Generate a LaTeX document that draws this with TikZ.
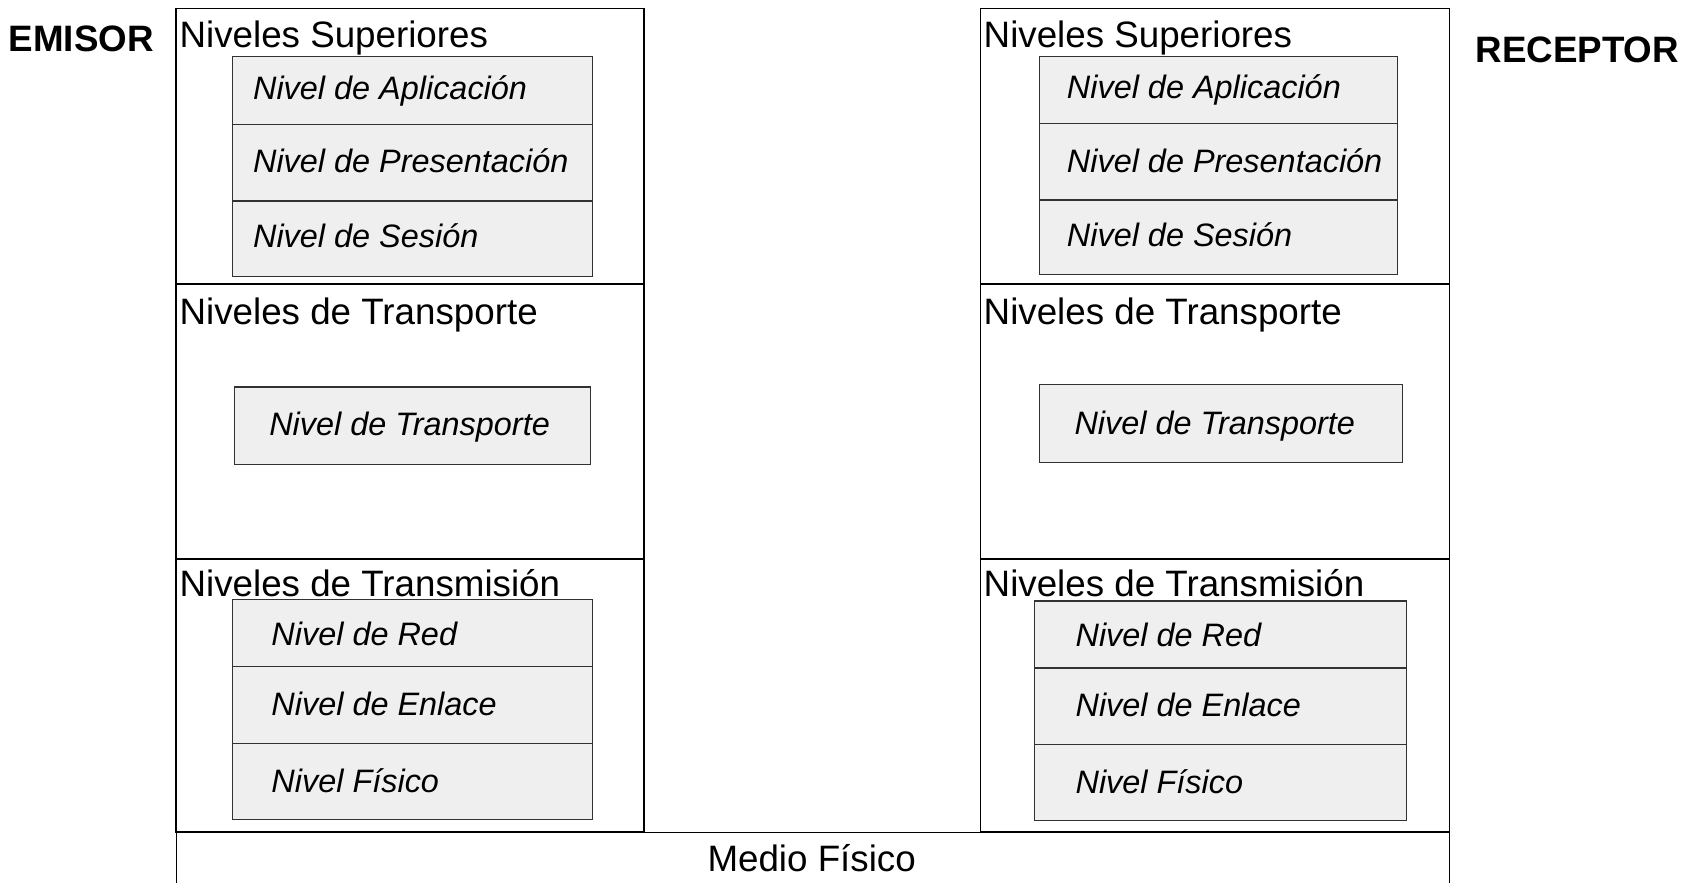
\documentclass[tikz,border=0pt]{standalone}
\usepackage{fontspec}
\setmainfont{Liberation Sans}
\definecolor{layergray}{RGB}{239,239,239}
\definecolor{layerline}{RGB}{50,50,50}
\begin{document}
\begin{tikzpicture}[x=1pt,y=-1pt,
  col/.style={draw=black,line width=1.4pt},
  layer/.style={draw=layerline,fill=layergray,line width=1.1pt},
  head/.style={anchor=base west,inner sep=0pt,font=\fontsize{34}{40}\selectfont},
  lab/.style={anchor=base west,inner sep=0pt,font=\fontsize{30}{36}\selectfont\itshape},
  side/.style={anchor=base west,inner sep=0pt,font=\fontsize{34}{40}\selectfont\bfseries}]
\useasboundingbox (0,0) rectangle (1560,817);
\clip (0,0) rectangle (1560,817);
\fill[white] (0,0) rectangle (1560,817);

% Medio fisico
\draw[col,line width=1pt] (163,770) rectangle (1341,860);
\node[anchor=base,inner sep=0pt,font=\fontsize{34}{40}\selectfont] (medio) at (751,806) {Medio Físico};

% Left column
\draw[col] (163,8) rectangle (596,263);
\draw[col] (163,263) rectangle (596,517);
\draw[col] (163,517) rectangle (596,770);
% Right column
\draw[col] (907,8) rectangle (1341,263);
\draw[col] (907,263) rectangle (1341,517);
\draw[col] (907,517) rectangle (1341,770);

% Side labels
\node[side] (emisor) at (8,48) {EMISOR};
\node[side] (receptor) at (1365,58) {RECEPTOR};

% Left headings
\node[head] (lsup) at (166,44) {Niveles Superiores};
\node[head] (ltra) at (166,300) {Niveles de Transporte};
\node[head] (ltrm) at (166,552) {Niveles de Transmisión};
% Right headings
\node[head] (rsup) at (910,44) {Niveles Superiores};
\node[head] (rtra) at (910,300) {Niveles de Transporte};
\node[head] (rtrm) at (910,552) {Niveles de Transmisión};

% Left layer boxes
\draw[layer] (215,52) rectangle (548,115);
\draw[layer] (215,115) rectangle (548,186);
\draw[layer] (215,186) rectangle (548,256);
\draw[layer] (217,358) rectangle (546,430);
\draw[layer] (215,555) rectangle (548,617);
\draw[layer] (215,617) rectangle (548,688);
\draw[layer] (215,688) rectangle (548,758);

% Right layer boxes
\draw[layer] (962,52) rectangle (1293,114);
\draw[layer] (962,114) rectangle (1293,185);
\draw[layer] (962,185) rectangle (1293,254);
\draw[layer] (962,356) rectangle (1298,428);
\draw[layer] (957,556) rectangle (1301,618);
\draw[layer] (957,618) rectangle (1301,689);
\draw[layer] (957,689) rectangle (1301,759);

% Left labels
\node[lab] (lapl) at (234,92) {Nivel de Aplicación};
\node[lab] (lpre) at (234,160) {Nivel de Presentación};
\node[lab] (lses) at (234,229) {Nivel de Sesión};
\node[lab] (ltrp) at (249,403) {Nivel de Transporte};
\node[lab] (lred) at (251,597) {Nivel de Red};
\node[lab] (lenl) at (251,662) {Nivel de Enlace};
\node[lab] (lfis) at (251,733) {Nivel Físico};

% Right labels
\node[lab] (rapl) at (987,91) {Nivel de Aplicación};
\node[lab] (rpre) at (987,160) {Nivel de Presentación};
\node[lab] (rses) at (987,228) {Nivel de Sesión};
\node[lab] (rtrp) at (994,402) {Nivel de Transporte};
\node[lab] (rred) at (995,598) {Nivel de Red};
\node[lab] (renl) at (995,663) {Nivel de Enlace};
\node[lab] (rfis) at (995,734) {Nivel Físico};
\end{tikzpicture}
\end{document}
